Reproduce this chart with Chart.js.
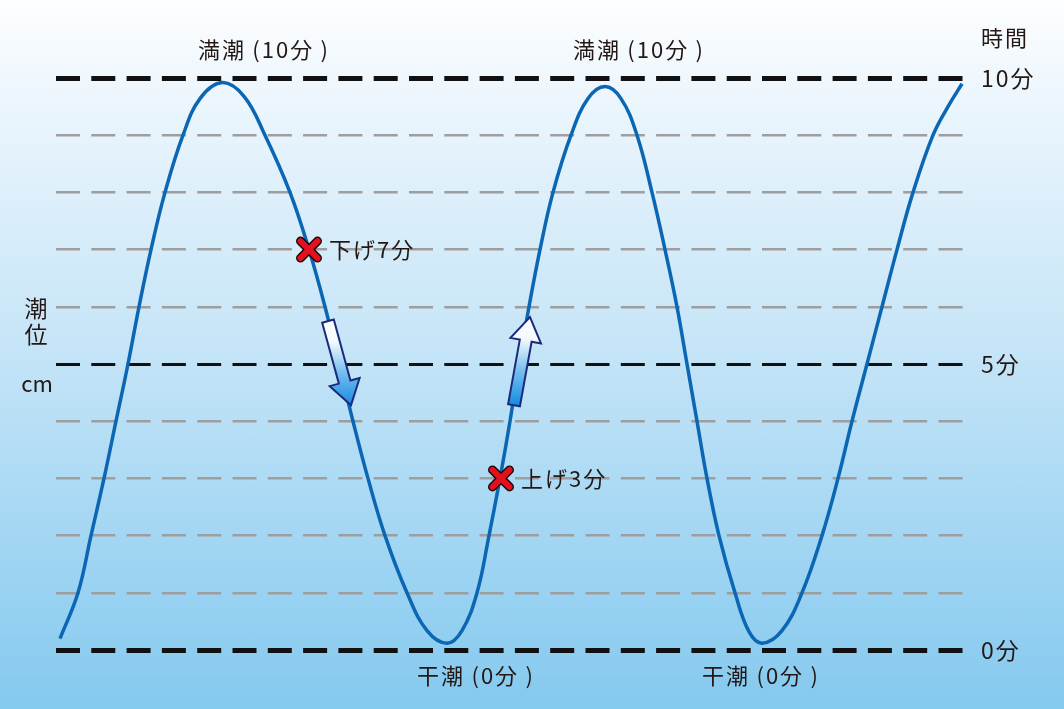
<!DOCTYPE html>
<html lang="ja">
<head>
<meta charset="utf-8">
<title>潮位と時間</title>
<script src="https://cdn.jsdelivr.net/npm/chart.js@4.4.1/dist/chart.umd.min.js"></script>
<style>
  html, body { margin: 0; padding: 0; }
  #wrap {
    width: 1064px; height: 709px; position: relative;
    background: linear-gradient(to bottom, #fdfeff 0%, #eef7fd 12%, #c4e4f7 50%, #84c9ef 100%);
  }
</style>
</head>
<body>
<div id="wrap"><canvas id="chart"></canvas></div>
<script>
// tide curve (time in arbitrary units, level 0-10)
const tideTime = [4, 22, 35, 48, 60, 72, 83, 95, 109, 127, 144, 166, 188, 209, 234, 253, 269, 283, 297, 312,
  329, 351, 371, 391, 406, 421, 433, 444, 454, 463, 473, 484, 497, 515, 532, 549, 565, 581, 596, 609,
  621, 631, 641, 651, 663, 679, 693, 706, 726, 746, 766, 782, 796, 811, 826, 841, 857, 877, 892, 906];
const tideLevel = [0.2, 1, 2, 3, 4, 5, 6, 7, 8, 9, 9.64, 9.92, 9.68, 9, 8, 7, 6, 5, 4, 3,
  2, 1, 0.34, 0.12, 0.34, 1, 2, 3, 4, 5, 6, 7, 8, 9, 9.64, 9.85, 9.64, 9, 8, 7,
  6, 5, 4, 3, 2, 1, 0.32, 0.12, 0.34, 1, 2, 3, 4, 5, 6, 7, 8, 9, 9.5, 9.9];

const yTickValues = [0, 5, 10];
const yTickLabels = ['0分', '5分', '10分'];

const highTimes = [208, 583];
const highText = '満潮\u2009(10分\u2009)';
const lowTimes = [420, 705];
const lowText = '干潮\u2009(0分\u2009)';

const markerTimes = [253, 445];
const markerLevels = [7, 3];
const markerText = ['下げ7分', '上げ3分'];

// arrows: [time, level] of tail and tip
const arrowFrom = [[272, 5.75], [458, 4.28]];
const arrowTo = [[295, 4.28], [474, 5.82]];

const FONT = "'Noto Sans CJK JP', 'Noto Sans', sans-serif";
const INK = '#231815';

function drawCross(ctx, cx, cy) {
  const r = 8.5;
  ctx.save();
  ctx.lineCap = 'round';
  ctx.beginPath();
  ctx.moveTo(cx - r, cy - r); ctx.lineTo(cx + r, cy + r);
  ctx.moveTo(cx + r, cy - r); ctx.lineTo(cx - r, cy + r);
  ctx.strokeStyle = '#1a0a0a';
  ctx.lineWidth = 9;
  ctx.stroke();
  ctx.strokeStyle = '#e3101e';
  ctx.lineWidth = 6;
  ctx.stroke();
  ctx.restore();
}

function drawArrow(ctx, x0, y0, x1, y1) {
  const len = Math.hypot(x1 - x0, y1 - y0);
  const ux = (x1 - x0) / len, uy = (y1 - y0) / len;
  const nx = -uy, ny = ux;
  const sw = 6, hw = 15.5, hl = 24;
  const bx = x1 - ux * hl, by = y1 - uy * hl;
  ctx.save();
  ctx.beginPath();
  ctx.moveTo(x0 + nx * sw, y0 + ny * sw);
  ctx.lineTo(bx + nx * sw, by + ny * sw);
  ctx.lineTo(bx + nx * hw, by + ny * hw);
  ctx.lineTo(x1, y1);
  ctx.lineTo(bx - nx * hw, by - ny * hw);
  ctx.lineTo(bx - nx * sw, by - ny * sw);
  ctx.lineTo(x0 - nx * sw, y0 - ny * sw);
  ctx.closePath();
  const top = Math.min(y0, y1), bot = Math.max(y0, y1);
  const g = ctx.createLinearGradient(0, top, 0, bot);
  g.addColorStop(0, '#ffffff');
  g.addColorStop(0.25, '#f2f9fe');
  g.addColorStop(0.6, '#78c0ef');
  g.addColorStop(1, '#168be0');
  ctx.fillStyle = g;
  ctx.fill();
  ctx.lineJoin = 'miter';
  ctx.strokeStyle = '#1b2a7a';
  ctx.lineWidth = 2;
  ctx.stroke();
  ctx.restore();
}

const decor = {
  id: 'decor',
  beforeDraw(chart) {
    chart.ctx.letterSpacing = '2px';
  },
  afterDatasetsDraw(chart) {
    const { ctx, chartArea, scales: { x, y } } = chart;
    ctx.save();
    ctx.letterSpacing = '2px';
    ctx.fillStyle = INK;
    ctx.textBaseline = 'middle';

    ctx.font = `22px ${FONT}`;
    ctx.textAlign = 'center';
    highTimes.forEach(t => ctx.fillText(highText, x.getPixelForValue(t), chartArea.top - 28));
    lowTimes.forEach(t => ctx.fillText(lowText, x.getPixelForValue(t), chartArea.bottom + 26));

    ctx.textAlign = 'left';
    ctx.fillText('時間', chartArea.right + 16, chartArea.top - 40);

    // left axis caption
    const mid = y.getPixelForValue(5);
    ctx.textAlign = 'center';
    ctx.font = `23px ${FONT}`;
    ctx.fillText('潮', chartArea.left - 19, mid - 56);
    ctx.fillText('位', chartArea.left - 19, mid - 30);
    ctx.letterSpacing = '0px';
    ctx.font = `22px ${FONT}`;
    ctx.fillText('cm', chartArea.left - 19, mid + 20);

    // arrows
    arrowFrom.forEach((a, i) => {
      const b = arrowTo[i];
      drawArrow(ctx, x.getPixelForValue(a[0]), y.getPixelForValue(a[1]),
        x.getPixelForValue(b[0]), y.getPixelForValue(b[1]));
    });

    // markers
    ctx.letterSpacing = '2px';
    ctx.font = `22px ${FONT}`;
    ctx.textAlign = 'left';
    markerTimes.forEach((t, i) => {
      const px = x.getPixelForValue(t), py = y.getPixelForValue(markerLevels[i]);
      drawCross(ctx, px, py);
      ctx.fillStyle = INK;
      ctx.fillText(markerText[i], px + 20, py);
    });
    ctx.restore();
  }
};

const points = tideTime.map((t, i) => ({ x: t, y: tideLevel[i] }));

new Chart(document.getElementById('chart'), {
  type: 'line',
  data: {
    datasets: [{
      label: '潮位',
      data: points,
      borderColor: '#0b66b3',
      borderWidth: 3.5,
      pointRadius: 0,
      fill: false,
      tension: 0.4
    }]
  },
  options: {
    responsive: true,
    maintainAspectRatio: false,
    animation: false,
    layout: { padding: { left: 56, top: 78, right: 0, bottom: 59 } },
    plugins: { legend: { display: false }, tooltip: { enabled: false } },
    scales: {
      x: { type: 'linear', min: 0, max: 909, display: false },
      y: {
        position: 'right',
        min: 0,
        max: 10,
        afterFit: s => { s.width = 99; },
        border: { display: false, dash: [24, 11.3] },
        grid: {
          drawTicks: false,
          color: c => c.tick.value % 5 === 0 ? '#111111' : '#9e9e9e',
          lineWidth: c => (c.tick.value === 0 || c.tick.value === 10) ? 5 : (c.tick.value === 5 ? 3 : 2.5)
        },
        ticks: {
          stepSize: 1,
          autoSkip: false,
          padding: 16,
          color: INK,
          font: { size: 23, family: FONT },
          callback: v => {
            const i = yTickValues.indexOf(v);
            return i < 0 ? '' : yTickLabels[i];
          }
        }
      }
    }
  },
  plugins: [decor]
});
</script>
</body>
</html>
